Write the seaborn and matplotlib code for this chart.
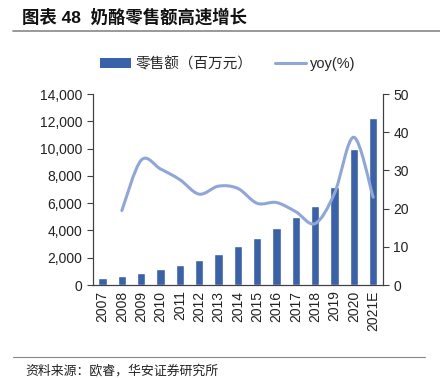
import numpy as np
import pandas as pd
import matplotlib
matplotlib.use('Agg')
import matplotlib.pyplot as plt
from matplotlib.path import Path
from matplotlib.patches import PathPatch
from matplotlib.lines import Line2D
from matplotlib.patches import Patch
import seaborn as sns

years = ['2007', '2008', '2009', '2010', '2011', '2012', '2013', '2014',
         '2015', '2016', '2017', '2018', '2019', '2020', '2021E']
sales = [540, 660, 880, 1150, 1470, 1810, 2300, 2860,
         3470, 4200, 5010, 5810, 7210, 9970, 12270]
yoy = [np.nan, 19.5, 32.7, 30.4, 27.6, 23.8, 25.9, 25.3,
       21.4, 21.6, 19.2, 16.1, 24.0, 38.7, 23.0]

sns.set_style('white')
plt.rcParams['font.family'] = ['Liberation Sans', 'Noto Sans CJK SC', 'DejaVu Sans']

bar_color = '#3A62AB'
line_color = '#8FA6DA'
axis_color = '#404040'

df = pd.DataFrame({'year': years, 'sales': sales, 'yoy': yoy})

fig = plt.figure(figsize=(4.4, 3.78), dpi=100)
ax = fig.add_axes([0.211, 0.246, 0.659, 0.505])
sns.barplot(data=df, x='year', y='sales', color=bar_color, width=0.43,
            saturation=1, ax=ax)
ax.set_xlim(-0.5, len(years) - 0.5)
ax.set_ylim(0, 14000)
ax.set_yticks(np.arange(0, 14001, 2000))
ax.yaxis.set_major_formatter(matplotlib.ticker.StrMethodFormatter('{x:,.0f}'))
ax.set_xlabel('')
ax.set_ylabel('')
ax.set_xticks(range(len(years)))
ax.set_xticklabels(years, rotation=90)
ax.set_xticks(np.arange(-0.5, len(years), 1), minor=True)
ax.tick_params(axis='x', which='major', length=0, pad=4, labelsize=10, colors='#222222')
ax.tick_params(axis='x', which='minor', length=4, width=0.8, color=axis_color, direction='out')
ax.tick_params(axis='y', length=4, width=0.8, color=axis_color, direction='out',
               labelsize=10, labelcolor='#222222', left=True)

ax2 = ax.twinx()
ax2.set_ylim(0, 50)
ax2.set_yticks(np.arange(0, 51, 10))
ax2.tick_params(axis='y', length=4, width=0.8, color=axis_color, direction='out',
                labelsize=10, labelcolor='#222222', right=True)

# smoothed line (Excel style) through the yoy points via Bezier segments
xs = [i for i in range(len(years)) if not np.isnan(yoy[i])]
pts = np.array([[i, yoy[i]] for i in xs])
verts = [pts[0]]
codes = [Path.MOVETO]
n = len(pts)
for k in range(n - 1):
    p0 = pts[k - 1] if k > 0 else pts[k]
    p1 = pts[k]
    p2 = pts[k + 1]
    p3 = pts[k + 2] if k + 2 < n else pts[k + 1]
    c1 = p1 + (p2 - p0) / 6
    c2 = p2 - (p3 - p1) / 6
    verts += [c1, c2, p2]
    codes += [Path.CURVE4] * 3
ax2.add_patch(PathPatch(Path(verts, codes), facecolor='none',
                        edgecolor=line_color, lw=2.2, capstyle='round'))

for a in (ax, ax2):
    a.spines['top'].set_visible(False)
    for s in ('left', 'right', 'bottom'):
        a.spines[s].set_color(axis_color)
        a.spines[s].set_linewidth(0.8)

handles = [Patch(facecolor=bar_color, edgecolor='none'),
           Line2D([0], [0], color=line_color, lw=2.2)]
fig.legend(handles, ['零售额（百万元）', 'yoy(%)'], loc='center left',
           bbox_to_anchor=(100 / 440, 1 - 64 / 378), ncol=2, frameon=False,
           fontsize=10.5, handlelength=2.1, handleheight=0.6, columnspacing=1.6,
           handletextpad=0.3, borderpad=0, borderaxespad=0)

fig.text(22 / 440, 1 - 17 / 378, '图表 48  奶酪零售额高速增长', fontsize=12.5,
         fontweight='bold', va='center', ha='left', color='#111111')
fig.add_artist(Line2D([13 / 440, 1.0], [1 - 31 / 378] * 2, color='#888888', lw=1.2))
fig.add_artist(Line2D([13 / 440, 425 / 440], [1 - 357 / 378] * 2, color='#888888', lw=0.8))
fig.text(25 / 440, 1 - 371 / 378, '资料来源：欧睿，华安证券研究所', fontsize=9.3,
         va='center', ha='left', color='#222222')

fig.savefig('out.png', dpi=100)
